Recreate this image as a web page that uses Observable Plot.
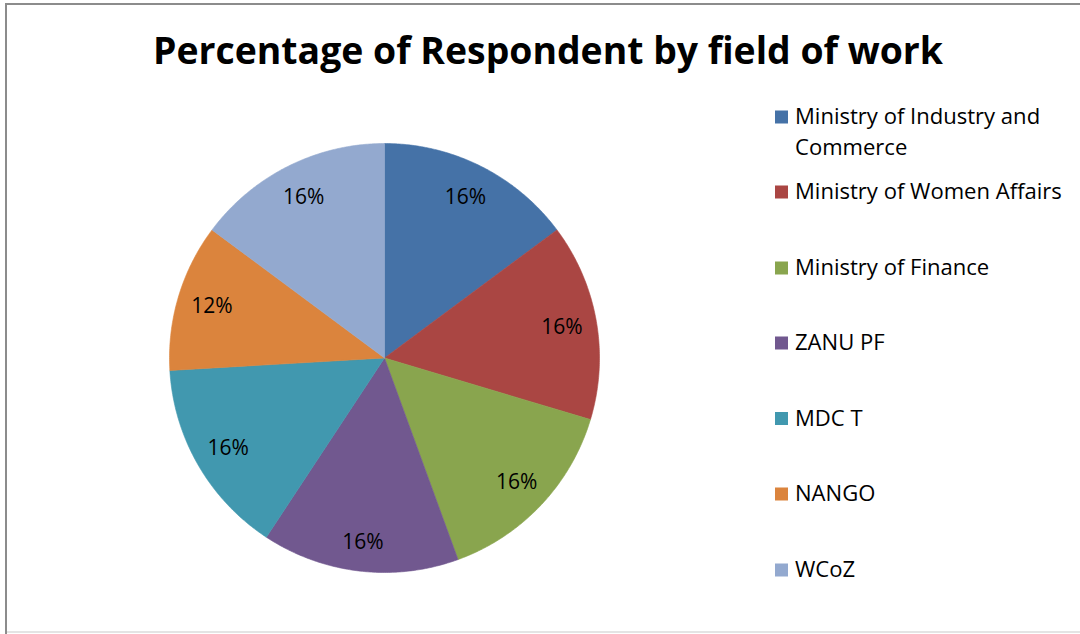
<!DOCTYPE html>
<html>
<head>
<meta charset="utf-8">
<script src="https://cdn.jsdelivr.net/npm/d3@7"></script>
<script src="https://cdn.jsdelivr.net/npm/@observablehq/plot@0.6"></script>
<style>
  html, body { margin: 0; padding: 0; background: #fff; }
  #wrap { position: relative; width: 1080px; height: 634px; overflow: hidden; }
  .bl { position: absolute; left: 5px; top: 3px; width: 2px; height: 631px; background: #8c8c8c; }
  .bt { position: absolute; left: 5px; top: 3px; width: 1075px; height: 2px; background: #8c8c8c; }
  .bb { position: absolute; left: 7px; top: 631px; width: 1073px; height: 2px; background: #e4e4e4; }
</style>
</head>
<body>
<div id="wrap"><div class="bl"></div><div class="bt"></div><div class="bb"></div></div>
<script>
const categories = ["Ministry of Industry and Commerce", "Ministry of Women Affairs", "Ministry of Finance", "ZANU PF", "MDC T", "NANGO", "WCoZ"];
const values = [16, 16, 16, 16, 16, 12, 16];
const labels = ["16%", "16%", "16%", "16%", "16%", "12%", "16%"];
const colors = ["#4572A7", "#AA4643", "#89A54E", "#71588F", "#4198AF", "#DB843D", "#93A9CF"];
const legendLines = [["Ministry of Industry and", "Commerce"], ["Ministry of Women Affairs"], ["Ministry of Finance"], ["ZANU PF"], ["MDC T"], ["NANGO"], ["WCoZ"]];
const title = "Percentage of Respondent by field of work";

const FONT = "'Open Sans', 'Liberation Sans', sans-serif";

// build slices (clockwise from 12 o'clock), unit circle coordinates
const total = d3.sum(values);
const pts = [];
const labelData = [];
let acc = 0;
values.forEach((v, i) => {
  const a0 = acc / total * 2 * Math.PI;
  acc += v;
  const a1 = acc / total * 2 * Math.PI;
  pts.push({name: categories[i], x: 0, y: 0});
  const n = Math.max(2, Math.ceil((a1 - a0) / (Math.PI / 360)));
  for (let k = 0; k <= n; k++) {
    const a = a0 + (a1 - a0) * k / n;
    pts.push({name: categories[i], x: Math.sin(a), y: Math.cos(a)});
  }
  pts.push({name: categories[i], x: 0, y: 0});
  const am = (a0 + a1) / 2;
  // labels sit a little further out toward the bottom of the pie
  const lr = 0.838 + 0.03 * Math.max(0, -Math.cos(am)) ** 4;
  labelData.push({name: categories[i], text: labels[i], x: lr * Math.sin(am), y: lr * Math.cos(am)});
});

const plot = Plot.plot({
  width: 1080,
  height: 634,
  margin: 0,
  style: {background: "transparent", fontFamily: FONT},
  x: {domain: [-1, 1], range: [169, 599], axis: null},
  y: {domain: [-1, 1], range: [572, 143], axis: null},
  color: {domain: categories, range: colors},
  marks: [
    Plot.line(pts, {x: "x", y: "y", z: "name", fill: "name", stroke: "name", strokeWidth: 0.6, curve: "linear"}),
    Plot.text(labelData, {x: "x", y: "y", text: "text", fill: "#000", fontSize: 21, fontFamily: FONT})
  ]
});
plot.style.position = "absolute";
plot.style.left = "0px";
plot.style.top = "0px";
document.getElementById("wrap").appendChild(plot);

// measure text for sizing
const cv = document.createElement("canvas").getContext("2d");
function fitSize(text, weight, base, target) {
  cv.font = `${weight} ${base}px ${FONT}`;
  const w = cv.measureText(text).width;
  if (!w || !isFinite(w)) return base;
  return base * target / w;
}
const titleSize = fitSize(title, "bold", 36, 790);
const legendSize = fitSize("Ministry of Women Affairs", "normal", 21, 267);

const svg = d3.select(plot);
svg.append("text")
  .attr("x", 548).attr("y", 64)
  .attr("text-anchor", "middle")
  .attr("font-family", FONT).attr("font-weight", "bold")
  .attr("font-size", titleSize)
  .attr("fill", "#000")
  .text(title);

const baselines = [124, 199, 275, 350, 425.5, 501, 577];
const lg = svg.append("g").attr("font-family", FONT).attr("font-size", legendSize).attr("fill", "#000").attr("text-anchor", "start");
categories.forEach((c, i) => {
  const b = baselines[i];
  lg.append("rect").attr("x", 775).attr("y", b - 13.5).attr("width", 13).attr("height", 13).attr("fill", colors[i]);
  legendLines[i].forEach((ln, j) => {
    lg.append("text").attr("x", 795).attr("y", b + j * 31).attr("text-anchor", "start").text(ln);
  });
});
</script>
</body>
</html>
